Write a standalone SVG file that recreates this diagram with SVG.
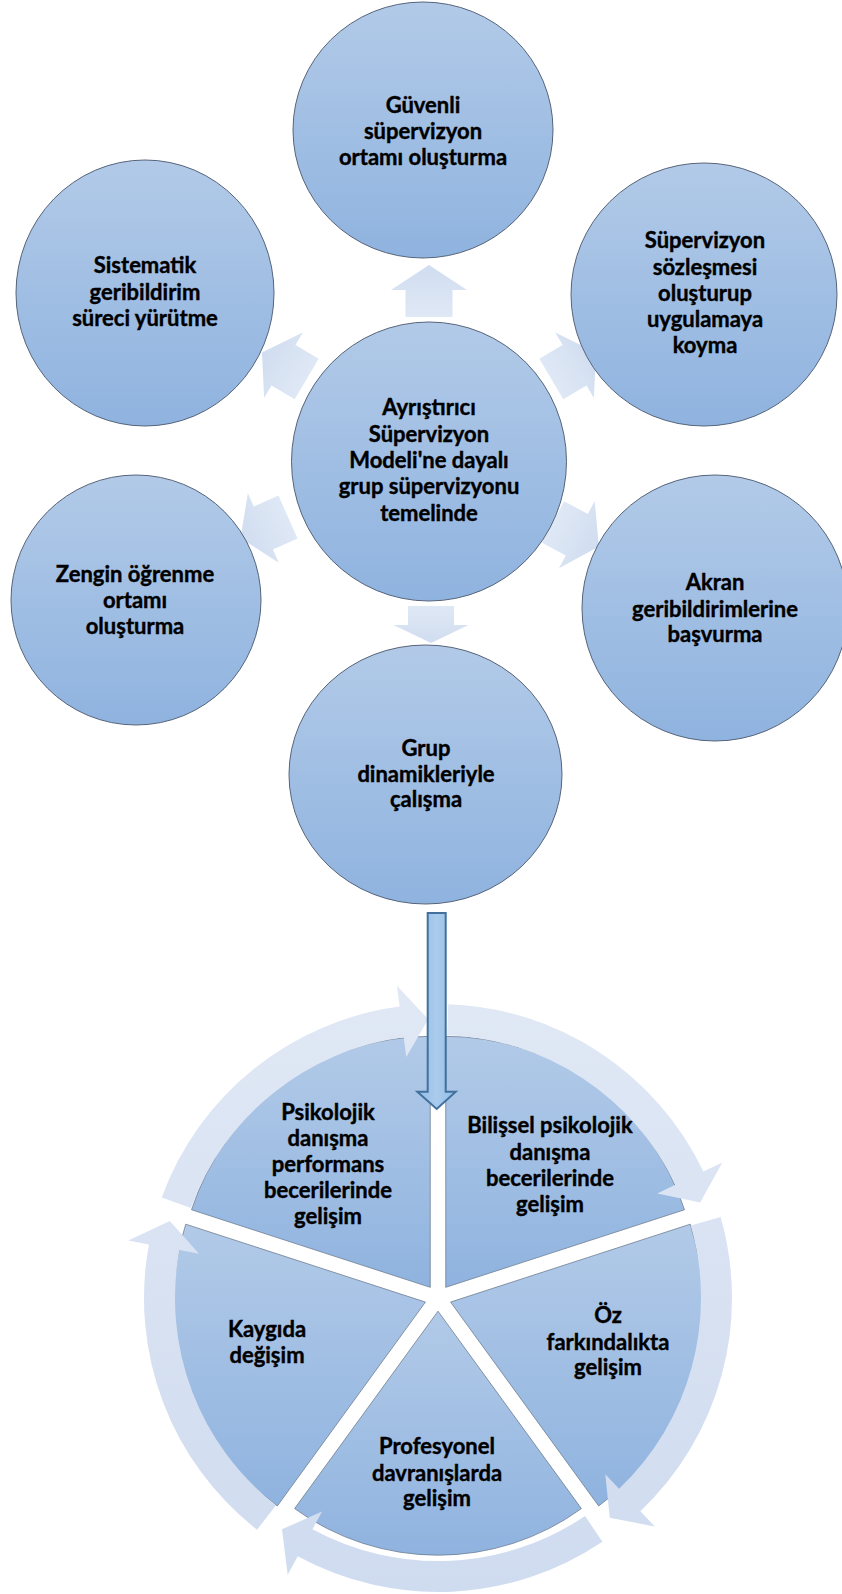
<svg xmlns="http://www.w3.org/2000/svg" width="842" height="1594" viewBox="0 0 842 1594">
<defs>
<linearGradient id="nodeG" x1="0" y1="0" x2="0" y2="1">
<stop offset="0" stop-color="#b2cae8"/>
<stop offset="1" stop-color="#8fb3df"/>
</linearGradient>
<linearGradient id="arrG" x1="0" y1="0" x2="1" y2="0">
<stop offset="0" stop-color="#dfe8f5"/>
<stop offset="1" stop-color="#d0ddf0"/>
</linearGradient>
<linearGradient id="ringG" gradientUnits="userSpaceOnUse" x1="0" y1="1003" x2="0" y2="1594">
<stop offset="0" stop-color="#e0e8f5"/>
<stop offset="1" stop-color="#cfdbef"/>
</linearGradient>
<linearGradient id="bigG" x1="0" y1="0" x2="1" y2="0">
<stop offset="0" stop-color="#94bde6"/>
<stop offset="0.5" stop-color="#aacbec"/>
<stop offset="1" stop-color="#94bde6"/>
</linearGradient>
<polygon id="blk" points="0,-23.5 27,-23.5 27,-38 52,0 27,38 27,23.5 0,23.5"/>
</defs>
<style>
.node{fill:url(#nodeG);stroke:#56647a;stroke-width:1}
.slice{fill:url(#nodeG);stroke:#6f7f93;stroke-width:0.8}
.ring{fill:url(#ringG);stroke:none}
.arr{fill:url(#arrG);stroke:none}
.t{font-family:Lato,"Liberation Sans",sans-serif;font-weight:700;font-size:22px;fill:#000;stroke:#000;stroke-width:0.4;text-anchor:middle}
</style>
<rect width="842" height="1594" fill="#ffffff"/>

<g id="connectors">
<use href="#blk" class="arr" transform="translate(429,317) rotate(-90)"/>
<use href="#blk" class="arr" transform="translate(306.7,379) rotate(-149.4)"/>
<use href="#blk" class="arr" transform="translate(551.3,379) rotate(-30.6)"/>
<use href="#blk" class="arr" transform="translate(288,517) rotate(156)"/>
<use href="#blk" class="arr" transform="translate(553,522) rotate(28)"/>
<polygon class="arr" points="0,-23 19,-23 19,-37.5 37,0 19,37.5 19,23 0,23" transform="translate(431,606) rotate(90)"/>
</g>

<g id="node-guvenli">
<ellipse class="node" cx="423" cy="130" rx="130" ry="128"/>
<text class="t" x="423" y="113">Güvenli</text>
<text class="t" x="423" y="139">süpervizyon</text>
<text class="t" x="423" y="165">ortamı oluşturma</text>
</g>
<g id="node-sistematik">
<ellipse class="node" cx="145" cy="293" rx="129" ry="133"/>
<text class="t" x="145" y="273">Sistematik</text>
<text class="t" x="145" y="300">geribildirim</text>
<text class="t" x="145" y="326">süreci yürütme</text>
</g>
<g id="node-sozlesme">
<ellipse class="node" cx="704" cy="294.5" rx="133" ry="131.5"/>
<text class="t" x="705" y="248">Süpervizyon</text>
<text class="t" x="705" y="275">sözleşmesi</text>
<text class="t" x="705" y="301">oluşturup</text>
<text class="t" x="705" y="327">uygulamaya</text>
<text class="t" x="705" y="353">koyma</text>
</g>
<g id="node-center">
<ellipse class="node" cx="429" cy="461.5" rx="137.5" ry="139.5"/>
<text class="t" x="429" y="415">Ayrıştırıcı</text>
<text class="t" x="429" y="442">Süpervizyon</text>
<text class="t" x="429" y="468">Modeli'ne dayalı</text>
<text class="t" x="429" y="494">grup süpervizyonu</text>
<text class="t" x="429" y="521">temelinde</text>
</g>
<g id="node-zengin">
<ellipse class="node" cx="136" cy="600" rx="125" ry="125"/>
<text class="t" x="135" y="582">Zengin öğrenme</text>
<text class="t" x="135" y="608">ortamı</text>
<text class="t" x="135" y="634">oluşturma</text>
</g>
<g id="node-akran">
<ellipse class="node" cx="715" cy="608" rx="133" ry="133"/>
<text class="t" x="715" y="590">Akran</text>
<text class="t" x="715" y="617">geribildirimlerine</text>
<text class="t" x="715" y="642">başvurma</text>
</g>
<g id="node-grup">
<ellipse class="node" cx="425.5" cy="774.5" rx="136.5" ry="129.5"/>
<text class="t" x="426" y="756">Grup</text>
<text class="t" x="426" y="782">dinamikleriyle</text>
<text class="t" x="426" y="807">çalışma</text>
</g>

<g id="cycle">
<g id="seg-psikolojik">
<path class="slice" d="M430.24 1287.32 L430.24 1036.32 A251 251 0 0 0 191.52 1209.76 Z"/>
<text class="t" x="328" y="1120">Psikolojik</text>
<text class="t" x="328" y="1146">danışma</text>
<text class="t" x="328" y="1172">performans</text>
<text class="t" x="328" y="1198">becerilerinde</text>
<text class="t" x="328" y="1224">gelişim</text>
</g>
<g id="seg-bilissel">
<path class="slice" d="M445.76 1287.32 L445.76 1036.32 A251 251 0 0 1 684.48 1209.76 Z"/>
<text class="t" x="550" y="1133">Bilişsel psikolojik</text>
<text class="t" x="550" y="1160">danışma</text>
<text class="t" x="550" y="1186">becerilerinde</text>
<text class="t" x="550" y="1212">gelişim</text>
</g>
<g id="seg-oz">
<path class="slice" d="M450.55 1302.08 L690.22 1224.21 A252 252 0 0 1 598.67 1505.95 Z"/>
<text class="t" x="608" y="1323">Öz</text>
<text class="t" x="608" y="1350">farkındalıkta</text>
<text class="t" x="608" y="1375">gelişim</text>
</g>
<g id="seg-profesyonel">
<path class="slice" d="M438 1311.2 L581.4 1508.6 A244 244 0 0 1 294.6 1508.6 Z"/>
<text class="t" x="437" y="1454">Profesyonel</text>
<text class="t" x="437" y="1481">davranışlarda</text>
<text class="t" x="437" y="1506">gelişim</text>
</g>
<g id="seg-kaygi">
<path class="slice" d="M425.45 1302.08 L277.33 1505.95 A252 252 0 0 1 185.78 1224.21 Z"/>
<text class="t" x="267" y="1337">Kaygıda</text>
<text class="t" x="267" y="1363">değişim</text>
</g>
<g id="ring-arrows">
<path class="ring" d="M161.73 1197.45 A294 294 0 0 1 399.62 1006.52 L396.88 985.70 L428.26 1019.17 L406.28 1057.08 L403.67 1037.25 A263 263 0 0 0 190.86 1208.05 Z"/>
<path class="ring" d="M448.26 1004.18 A294 294 0 0 1 703.36 1171.43 L722.32 1162.39 L700.17 1202.58 L657.33 1193.39 L675.38 1184.78 A263 263 0 0 0 447.18 1035.16 Z"/>
<path class="ring" d="M720.61 1216.96 A294 294 0 0 1 640.37 1511.26 L654.83 1526.49 L609.77 1517.85 L605.27 1474.26 L619.04 1488.77 A263 263 0 0 0 690.81 1225.51 Z"/>
<path class="ring" d="M602.40 1541.74 A294 294 0 0 1 297.71 1556.37 L287.69 1574.83 L281.99 1529.30 L322.05 1511.55 L312.51 1529.13 A263 263 0 0 0 585.07 1516.04 Z"/>
<path class="ring" d="M257.00 1529.67 A294 294 0 0 1 148.92 1244.42 L128.28 1240.59 L169.81 1221.10 L199.07 1253.72 L179.41 1250.07 A263 263 0 0 0 276.08 1505.25 Z"/>
</g>
</g>

<g id="main-arrow">
<path d="M427.7 913 L445.7 913 L445.7 1091.7 L455.7 1091.7 L436.7 1109 L417.3 1091.7 L427.7 1091.7 Z" fill="url(#bigG)" stroke="#41719c" stroke-width="2" stroke-linejoin="miter"/>
</g>
</svg>
